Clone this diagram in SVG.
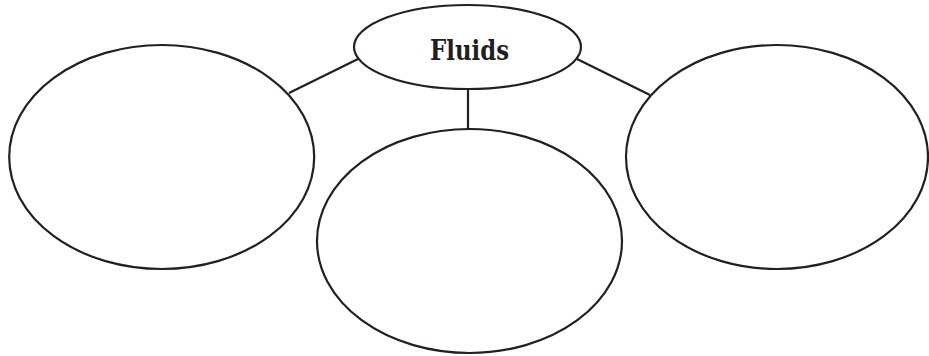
<svg xmlns="http://www.w3.org/2000/svg" width="929" height="356" viewBox="0 0 929 356">
  <style>
    .bubble { fill: #ffffff; stroke: #231f20; stroke-width: 2.2; }
    .link { stroke: #231f20; stroke-width: 2.2; fill: none; }
    .title { font-family: "DejaVu Serif", "Liberation Serif", serif; font-weight: bold; font-size: 27px; fill: #231f20; }
  </style>
  <rect width="929" height="356" fill="#ffffff"/>
  <g id="connectors">
    <line class="link" x1="289" y1="93" x2="358" y2="59"/>
    <line class="link" x1="650" y1="95" x2="577" y2="59"/>
    <line class="link" x1="468" y1="89" x2="468" y2="130"/>
  </g>
  <g id="node-fluids">
    <ellipse class="bubble" cx="467.5" cy="47" rx="113.5" ry="42"/>
    <text class="title" x="469.5" y="59.5" text-anchor="middle" textLength="79" lengthAdjust="spacingAndGlyphs">Fluids</text>
  </g>
  <g id="node-left">
    <ellipse class="bubble" cx="161.7" cy="157" rx="152.5" ry="112"/>
  </g>
  <g id="node-middle">
    <ellipse class="bubble" cx="469.5" cy="241" rx="152.5" ry="112"/>
  </g>
  <g id="node-right">
    <ellipse class="bubble" cx="777" cy="157" rx="151" ry="112"/>
  </g>
</svg>
